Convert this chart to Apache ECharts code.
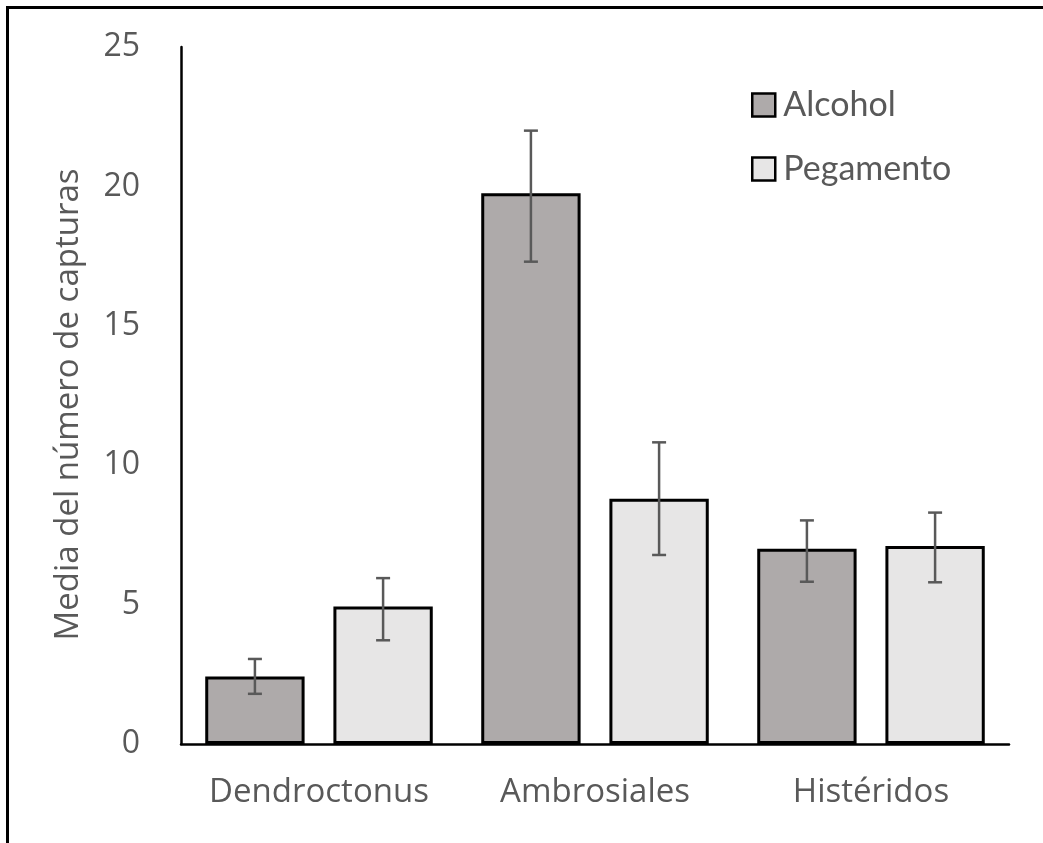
<!DOCTYPE html>
<html>
<head>
<meta charset="utf-8">
<script src="https://cdn.jsdelivr.net/npm/echarts@6/dist/echarts.min.js"></script>
<style>
html,body{margin:0;padding:0;background:#fff;}
#frame{position:absolute;left:6px;top:6px;width:1100px;height:900px;border-top:3px solid #000;border-left:3px solid #000;pointer-events:none;z-index:5;}
#chart{position:absolute;left:0;top:0;width:1043px;height:843px;}
</style>
</head>
<body>
<div id="chart"></div>
<div id="frame"></div>
<script>
const categories = ['Dendroctonus', 'Ambrosiales', 'Histéridos'];
const seriesNames = ['Alcohol', 'Pegamento'];
const alcoholMean = [2.42, 19.75, 7.0];
const alcoholLow = [1.8, 17.3, 5.82];
const alcoholHigh = [3.05, 22.0, 8.02];
const pegamentoMean = [4.93, 8.8, 7.1];
const pegamentoLow = [3.72, 6.78, 5.8];
const pegamentoHigh = [5.95, 10.82, 8.3];
const yTicks = [0, 5, 10, 15, 20, 25];

const BAR_W = 0.36, GAP = 0.29;
const chart = echarts.init(document.getElementById('chart'));

function errSeries(idx, low, high) {
  return {
    type: 'custom',
    name: seriesNames[idx] + ' err',
    z: 10,
    silent: true,
    data: categories.map((c, i) => [i, low[i], high[i]]),
    renderItem: function (params, api) {
      const i = api.value(0);
      const band = api.size([1, 0])[0];
      const bw = band * BAR_W;
      const off = (bw + bw * GAP) / 2 * (idx === 0 ? -1 : 1);
      const pLow = api.coord([i, api.value(1)]);
      const pHigh = api.coord([i, api.value(2)]);
      const x = pLow[0] + off;
      const cap = 7;
      const style = { stroke: '#595959', lineWidth: 2.5, fill: null };
      return {
        type: 'group',
        children: [
          { type: 'line', shape: { x1: x, y1: pLow[1], x2: x, y2: pHigh[1] }, style: style },
          { type: 'line', shape: { x1: x - cap, y1: pLow[1], x2: x + cap, y2: pLow[1] }, style: style },
          { type: 'line', shape: { x1: x - cap, y1: pHigh[1], x2: x + cap, y2: pHigh[1] }, style: style }
        ]
      };
    }
  };
}

chart.setOption({
  animation: false,
  backgroundColor: '#fff',
  grid: { left: 181, right: 34, top: 47, bottom: 99, containLabel: false },
  legend: {
    data: seriesNames,
    orient: 'vertical',
    left: 746,
    top: 83,
    icon: 'rect',
    itemWidth: 23,
    itemHeight: 23,
    itemGap: 30,
    textStyle: { fontFamily: 'Lato', fontSize: 34, color: '#595959', padding: [0, 0, 0, 3] },
    itemStyle: { borderColor: '#000', borderWidth: 2.5 }
  },
  xAxis: {
    type: 'category',
    data: categories,
    axisLine: { lineStyle: { color: '#000', width: 2.5 } },
    axisTick: { show: false },
    axisLabel: { fontFamily: 'Open Sans', fontSize: 33, color: '#595959', margin: 32, interval: 0 }
  },
  yAxis: {
    type: 'value',
    min: yTicks[0],
    max: yTicks[yTicks.length - 1],
    interval: 5,
    name: 'Media del número de capturas',
    nameLocation: 'middle',
    nameGap: 96,
    nameRotate: 90,
    nameTextStyle: { fontFamily: 'Open Sans', fontSize: 33, color: '#595959', padding: [0, 18, 0, 0] },
    axisLine: { show: true, lineStyle: { color: '#000', width: 2.5 } },
    axisTick: { show: false },
    splitLine: { show: false },
    axisLabel: { fontFamily: 'Open Sans', fontSize: 32, color: '#595959', margin: 41 }
  },
  series: [
    {
      name: seriesNames[0], type: 'bar', data: alcoholMean,
      barWidth: (BAR_W * 100) + '%', barGap: (GAP * 100) + '%',
      itemStyle: { color: '#aeaaaa', borderColor: '#000', borderWidth: 3 }
    },
    {
      name: seriesNames[1], type: 'bar', data: pegamentoMean,
      barWidth: (BAR_W * 100) + '%', barGap: (GAP * 100) + '%',
      itemStyle: { color: '#e7e6e6', borderColor: '#000', borderWidth: 3 }
    },
    errSeries(0, alcoholLow, alcoholHigh),
    errSeries(1, pegamentoLow, pegamentoHigh)
  ]
});
</script>
</body>
</html>
